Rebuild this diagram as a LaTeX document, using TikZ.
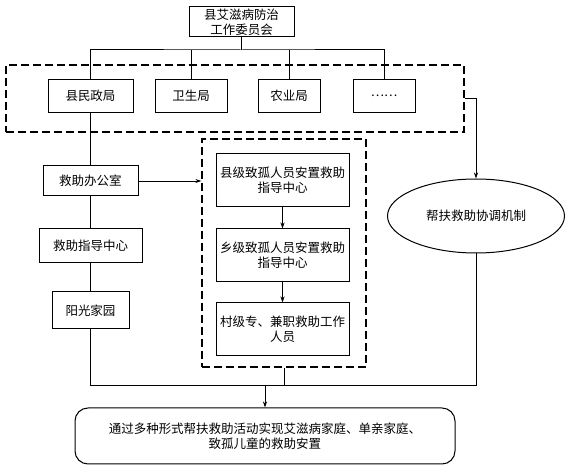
\documentclass[tikz,border=0pt]{standalone}
\usepackage{fontspec}
\newfontfamily\cjk{Noto Sans CJK SC}
\usetikzlibrary{shapes}
\usetikzlibrary{arrows.meta}

\begin{document}
\begin{tikzpicture}[x=1pt,y=1pt,yscale=-1,xscale=1,
  box/.style={draw,line width=1pt,inner sep=0pt,align=center,font=\cjk\fontsize{12.5}{15}\selectfont},
  grp/.style={draw,line width=1.3pt,dash pattern=on 8pt off 4pt,inner sep=0pt},
  arr/.style={-{Stealth[length=6pt,width=4pt]},line width=0.8pt},
  lnk/.style={line width=1pt}]
\useasboundingbox (0,0) rectangle (566,473);

%Shape: Rectangle [top]
\node [box,minimum width=105,minimum height=30] (wyh) at (241.5,22) {县艾滋病防治\\工作委员会};

%Shape: Rectangle [bureaus]
\node [box,minimum width=85,minimum height=33] (mzj) at (90.5,96) {县民政局};
\node [box,minimum width=72,minimum height=33] (wsj) at (191,96) {卫生局};
\node [box,minimum width=62,minimum height=33] (nyj) at (289,96) {农业局};
\node [box,minimum width=62,minimum height=33] (qt) at (384,96) {……};
%Shape: Dashed Rectangle
\node [grp,minimum width=458,minimum height=67] (grpa) at (235,98.5) {};

%Shape: Rectangle [left column]
\node [box,minimum width=95,minimum height=30] (bgs) at (90.5,181) {救助办公室};
\node [box,minimum width=103,minimum height=34] (zdzx) at (90.5,246) {救助指导中心};
\node [box,minimum width=77,minimum height=37] (ygjy) at (90.5,310.5) {阳光家园};

%Shape: Rectangle [middle column]
\node [box,minimum width=133,minimum height=53] (xjzx) at (282.5,180.5) {县级致孤人员安置救助\\指导中心};
\node [box,minimum width=133,minimum height=53] (xzzx) at (282.5,255.5) {乡级致孤人员安置救助\\指导中心};
\node [box,minimum width=133,minimum height=53] (cjry) at (282.5,329.5) {村级专、兼职救助工作\\人员};
%Shape: Dashed Rectangle
\node [grp,minimum width=164,minimum height=228] (grpb) at (284,253) {};

%Shape: Ellipse
\node [box,ellipse,minimum width=177,minimum height=74] (jz) at (476,216) {帮扶救助协调机制};

%Shape: Rounded Rectangle
\node [box,rounded corners=13,minimum width=380,minimum height=56] (az) at (265,436) {通过多种形式帮扶救助活动实现艾滋病家庭、单亲家庭、\\致孤儿童的救助安置};

%Straight Lines
\coordinate (bus) at (241.5,50);
\coordinate (jl) at (90.5,386);
\coordinate (jr) at (476,386);
\draw [lnk] (wyh) -- (bus);
\draw [lnk] (mzj.north) |- (bus) -| (qt.north);
\foreach \n in {wsj,nyj}
  \draw [lnk] (\n.north) -- (\n.north |- bus);
\draw [lnk] (mzj) -- (bgs) (bgs) -- (zdzx) (zdzx) -- (ygjy) (ygjy) -- (jl) -- (jr) -- (jz);
\draw [lnk] (grpb.south) -- (grpb.south |- jl);
\draw [arr] (bgs.east) -- (bgs.east -| grpb.west);
\draw [arr] (xjzx) -- (xzzx);
\draw [arr] (xzzx) -- (cjry);
\draw [arr] (grpa.east) -- ++(11,0) -| (jz.north);
\draw [arr] (az.north |- jl) -- (az.north);

\end{tikzpicture}
\end{document}
